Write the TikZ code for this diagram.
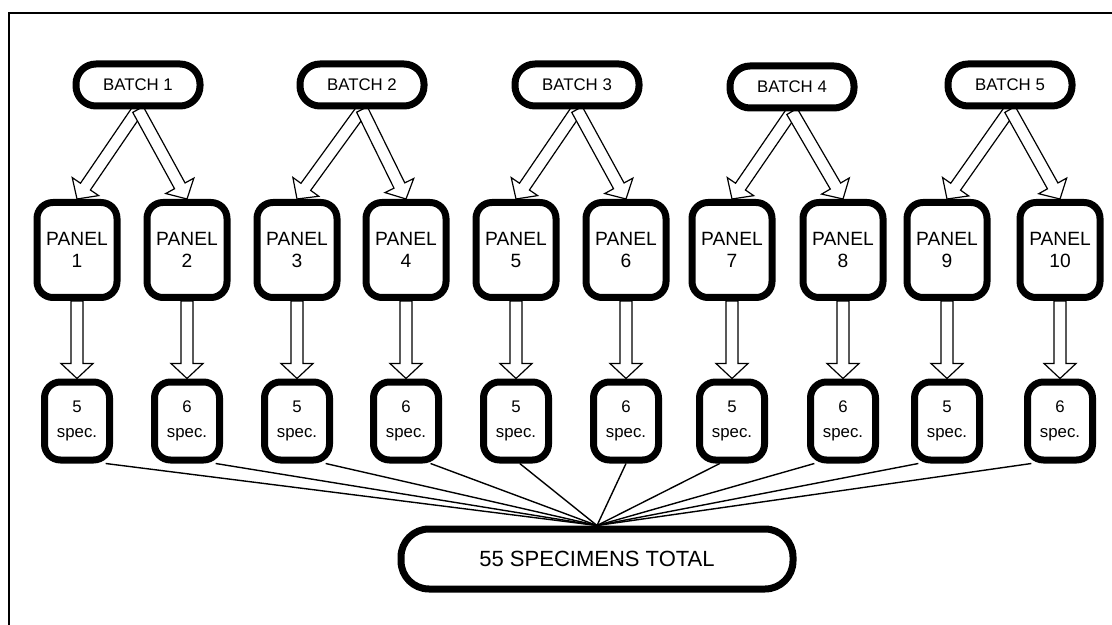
\documentclass[tikz,border=0pt]{standalone}
\usepackage{fontspec}
\setmainfont{Liberation Sans}
\usetikzlibrary{calc,backgrounds}

\tikzset{
    box/.style={draw, line width=3.5pt, fill=white, align=center, inner sep=1pt},
    batch/.style={box, rounded corners=10pt, minimum width=62pt,
        minimum height=21pt, font=\fontsize{8.4}{10}\selectfont},
    panel/.style={box, rounded corners=8pt, minimum width=40pt,
        minimum height=47.5pt, font=\fontsize{9.6}{11}\selectfont},
    spec/.style={box, rounded corners=8pt, minimum width=32.5pt,
        minimum height=39pt, font=\fontsize{8.4}{12.5}\selectfont},
    total/.style={box, rounded corners=14pt, minimum width=196pt,
        minimum height=30pt, font=\fontsize{11}{13}\selectfont},
    fatarrow/.style={draw, fill=white, line width=0.6pt, line join=miter},
    spoke/.style={line width=0.7pt}
}

% hollow block arrow from #1 to #2
\newcommand{\fatarrow}[2]{%
    \coordinate (fa-h) at ($(#2)!7.5pt!(#1)$);
    \draw[fatarrow] ($(#1)!3pt!90:(#2)$)
        -- ($(fa-h)!3pt!-90:(#1)$) -- ($(fa-h)!8pt!-90:(#1)$)
        -- (#2)
        -- ($(fa-h)!8pt!90:(#1)$) -- ($(fa-h)!3pt!90:(#1)$)
        -- ($(#1)!3pt!-90:(#2)$) -- cycle;}

\begin{document}
\begin{tikzpicture}[x=0.5pt,y=-0.5pt]
    \useasboundingbox (0,0) rectangle (1112,625);
    \draw[line width=0.8pt] (9,625) -- (9,13) -- (1112,13);

    % batches
    \node[batch] (b1) at (138,85) {BATCH 1};
    \node[batch] (b2) at (362,85) {BATCH 2};
    \node[batch] (b3) at (577,85) {BATCH 3};
    \node[batch] (b4) at (792,87) {BATCH 4};
    \node[batch] (b5) at (1010,85) {BATCH 5};

    % panels
    \node[panel] (p1) at (77,250) {PANEL\\1};
    \node[panel] (p2) at (187,250) {PANEL\\2};
    \node[panel] (p3) at (297,250) {PANEL\\3};
    \node[panel] (p4) at (406,250) {PANEL\\4};
    \node[panel] (p5) at (516,250) {PANEL\\5};
    \node[panel] (p6) at (626,250) {PANEL\\6};
    \node[panel] (p7) at (732,250) {PANEL\\7};
    \node[panel] (p8) at (843,250) {PANEL\\8};
    \node[panel] (p9) at (947,250) {PANEL\\9};
    \node[panel] (p10) at (1060,250) {PANEL\\10};

    % specimens
    \node[spec] (s1) at (77,421) {5\\spec.};
    \node[spec] (s2) at (187,421) {6\\spec.};
    \node[spec] (s3) at (297,421) {5\\spec.};
    \node[spec] (s4) at (406,421) {6\\spec.};
    \node[spec] (s5) at (516,421) {5\\spec.};
    \node[spec] (s6) at (626,421) {6\\spec.};
    \node[spec] (s7) at (732,421) {5\\spec.};
    \node[spec] (s8) at (843,421) {6\\spec.};
    \node[spec] (s9) at (947,421) {5\\spec.};
    \node[spec] (s10) at (1060,421) {6\\spec.};

    \node[total] (total) at (597,559) {55 SPECIMENS TOTAL};

    \begin{scope}[on background layer]
        \fatarrow{b1.south}{p1.north}
        \fatarrow{b1.south}{p2.north}
        \fatarrow{b2.south}{p3.north}
        \fatarrow{b2.south}{p4.north}
        \fatarrow{b3.south}{p5.north}
        \fatarrow{b3.south}{p6.north}
        \fatarrow{b4.south}{p7.north}
        \fatarrow{b4.south}{p8.north}
        \fatarrow{b5.south}{p9.north}
        \fatarrow{b5.south}{p10.north}
        \fatarrow{p1.south}{s1.north}
        \fatarrow{p2.south}{s2.north}
        \fatarrow{p3.south}{s3.north}
        \fatarrow{p4.south}{s4.north}
        \fatarrow{p5.south}{s5.north}
        \fatarrow{p6.south}{s6.north}
        \fatarrow{p7.south}{s7.north}
        \fatarrow{p8.south}{s8.north}
        \fatarrow{p9.south}{s9.north}
        \fatarrow{p10.south}{s10.north}
        \draw[spoke] (s1.-56) -- (total.north);
        \draw[spoke] (s2.-56) -- (total.north);
        \draw[spoke] (s3.-56) -- (total.north);
        \draw[spoke] (s4.-60) -- (total.north);
        \draw[spoke] (s5.-85) -- (total.north);
        \draw[spoke] (s6.-90) -- (total.north);
        \draw[spoke] (s7.-106) -- (total.north);
        \draw[spoke] (s8.-124) -- (total.north);
        \draw[spoke] (s9.-124) -- (total.north);
        \draw[spoke] (s10.-124) -- (total.north);
    \end{scope}
\end{tikzpicture}
\end{document}
